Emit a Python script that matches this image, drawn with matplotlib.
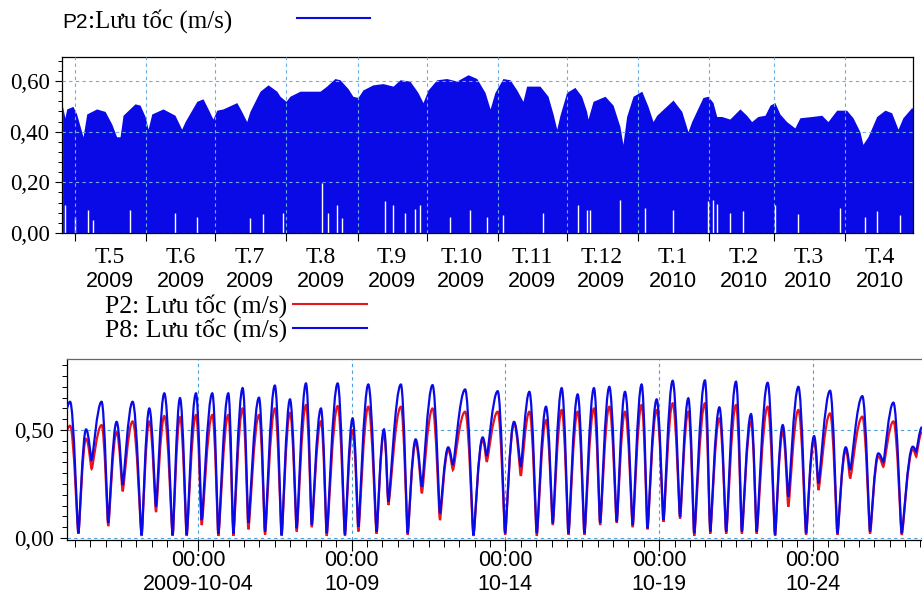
import matplotlib
matplotlib.use('Agg')
import matplotlib.pyplot as plt
import matplotlib.dates as mdates
import matplotlib.transforms as mtransforms
from matplotlib.lines import Line2D
from matplotlib.patches import PathPatch
from matplotlib.path import Path
from matplotlib.ticker import MultipleLocator, FixedLocator, NullFormatter, FuncFormatter
import numpy as np
import pandas as pd

SERIF = ['Liberation Serif', 'DejaVu Serif']
SANS = ['Liberation Sans', 'DejaVu Sans']
BLUE = '#0a0ae6'
RED = '#e8141c'

# ---- top panel: P2 speed, upper envelope (days after 2009-05-01) ----
top_days = [-5.4, -4.4, -3.6, -0.9, 0.7, 3.5, 5.1, 9.4, 13.1, 16.0,
            18.1, 19.6, 20.9, 26.1, 28.3, 30.5, 31.8, 33.4, 38.3, 43.5,
            46.4, 47.9, 53.0, 55.7, 57.9, 60.0, 61.7, 64.4, 70.4, 72.5,
            74.7, 76.1, 80.5, 84.0, 87.8, 89.2, 91.8, 93.5, 97.9, 106.6,
            109.5, 113.1, 115.3, 118.8, 120.9, 123.1, 125.3, 129.6, 134.0, 138.4,
            141.4, 145.7, 149.2, 151.4, 153.6, 157.4, 161.7, 166.1, 171.0, 174.8,
            178.4, 180.6, 182.7, 186.2, 189.3, 192.2, 194.9, 196.5, 202.3, 205.8,
            208.0, 209.6, 211.0, 213.9, 217.5, 220.4, 222.6, 223.2, 225.4, 230.6,
            234.1, 237.1, 238.4, 240.0, 242.8, 246.6, 249.3, 251.5, 253.1, 260.2,
            264.0, 266.7, 268.3, 273.2, 275.4, 277.6, 279.2, 281.4, 284.9, 289.3,
            292.2, 294.4, 297.1, 300.2, 302.4, 304.5, 306.7, 309.6, 313.2, 315.4,
            320.5, 324.9, 327.6, 331.4, 335.7, 338.5, 341.5, 342.8, 345.0, 348.8,
            352.4, 355.3, 358.1, 360.2, 364.0, 364.8]
top_vals = [0.50, 0.455, 0.49, 0.50, 0.47, 0.38, 0.47, 0.49, 0.48, 0.43,
            0.38, 0.38, 0.465, 0.51, 0.505, 0.46, 0.41, 0.47, 0.49, 0.465,
            0.41, 0.44, 0.52, 0.53, 0.49, 0.45, 0.485, 0.49, 0.515, 0.48,
            0.44, 0.48, 0.56, 0.585, 0.56, 0.54, 0.52, 0.54, 0.56, 0.56,
            0.58, 0.61, 0.605, 0.57, 0.54, 0.535, 0.565, 0.585, 0.59, 0.58,
            0.605, 0.60, 0.555, 0.515, 0.565, 0.605, 0.61, 0.60, 0.625, 0.61,
            0.555, 0.49, 0.555, 0.61, 0.605, 0.565, 0.52, 0.58, 0.58, 0.54,
            0.47, 0.41, 0.465, 0.555, 0.575, 0.54, 0.48, 0.45, 0.52, 0.54,
            0.505, 0.42, 0.35, 0.46, 0.54, 0.56, 0.50, 0.44, 0.465, 0.525,
            0.48, 0.40, 0.44, 0.535, 0.54, 0.515, 0.46, 0.46, 0.45, 0.49,
            0.465, 0.44, 0.46, 0.465, 0.505, 0.515, 0.47, 0.44, 0.415, 0.455,
            0.46, 0.465, 0.44, 0.485, 0.485, 0.455, 0.40, 0.35, 0.38, 0.46,
            0.485, 0.475, 0.41, 0.455, 0.495, 0.49]
# days where the low-water speed stays up (white gaps at the bottom)
gap_days = [-4.4, 0.0, 5.8, 8.0, 23.9, 43.5, 52.9, 76.1, 81.9, 90.6,
            107.3, 110.2, 113.8, 116.0, 134.9, 138.5, 143.6, 147.9, 150.1, 163.2,
            171.9, 179.1, 186.3, 203.7, 219.0, 222.6, 224.1, 237.1, 248.0, 260.3,
            275.5, 277.7, 279.2, 285.0, 290.8, 304.5, 314.7, 332.8, 343.7, 348.8,
            358.9]
gap_vals = [0.11, 0.065, 0.09, 0.05, 0.09, 0.08, 0.065, 0.06, 0.075, 0.078,
            0.197, 0.08, 0.11, 0.06, 0.128, 0.11, 0.08, 0.095, 0.11, 0.065,
            0.09, 0.065, 0.07, 0.08, 0.11, 0.09, 0.09, 0.13, 0.10, 0.09,
            0.125, 0.13, 0.115, 0.08, 0.085, 0.11, 0.075, 0.10, 0.065, 0.085,
            0.07]
month_names = ['T.5', 'T.6', 'T.7', 'T.8', 'T.9', 'T.10', 'T.11', 'T.12',
               'T.1', 'T.2', 'T.3', 'T.4']
month_years = ['2009'] * 8 + ['2010'] * 4

# ---- bottom panel: turning points, days after 2009-10-04 00:00 ----
ext_days = [-4.29, -4.16, -3.89, -3.64, -3.46, -3.135, -2.92, -2.646, -2.451, -2.126,
            -1.833, -1.583, -1.366, -1.095, -0.824, -0.585, -0.368, -0.065, 0.119, 0.466,
            0.662, 0.987, 1.149, 1.453, 1.638, 1.985, 2.18, 2.50, 2.72, 2.993,
            3.21, 3.513, 3.70, 4.0, 4.186, 4.544, 4.78, 5.03, 5.216, 5.54,
            5.81, 6.05, 6.19, 6.60, 6.82, 7.08, 7.28, 7.63, 7.87, 8.14,
            8.29, 8.69, 8.96, 9.26, 9.39, 9.75, 9.99, 10.28, 10.5, 10.78,
            11.02, 11.32, 11.54, 11.83, 12.05, 12.35, 12.57, 12.88, 13.08, 13.38,
            13.62, 13.89, 14.14, 14.43, 14.62, 14.92, 15.14, 15.44, 15.68, 15.95,
            16.14, 16.49, 16.66, 16.96, 17.18, 17.50, 17.69, 17.99, 18.17, 18.53,
            18.77, 19.02, 19.2, 19.53, 19.78, 20.04, 20.18, 20.56, 20.80, 21.07,
            21.21, 21.61, 21.86, 22.13, 22.29, 22.62, 22.89, 23.25, 23.36, 23.55]
p8_vals = [0.59, 0.631, 0.022, 0.503, 0.361, 0.631, 0.07, 0.538, 0.245, 0.631,
           0.014, 0.60, 0.145, 0.67, 0.014, 0.648, 0.014, 0.67, 0.083, 0.67,
           0.02, 0.67, 0.02, 0.694, 0.07, 0.65, 0.03, 0.706, 0.014, 0.642,
           0.045, 0.716, 0.06, 0.60, 0.022, 0.716, 0.014, 0.554, 0.052, 0.711,
           0.030, 0.503, 0.168, 0.711, 0.022, 0.457, 0.238, 0.708, 0.114, 0.42,
           0.338, 0.688, 0.014, 0.466, 0.38, 0.68, 0.022, 0.538, 0.33, 0.677,
           0.022, 0.608, 0.068, 0.694, 0.022, 0.665, 0.022, 0.694, 0.07, 0.70,
           0.076, 0.677, 0.06, 0.711, 0.045, 0.642, 0.083, 0.728, 0.098, 0.647,
           0.022, 0.73, 0.03, 0.605, 0.03, 0.724, 0.03, 0.574, 0.03, 0.719,
           0.014, 0.523, 0.191, 0.70, 0.022, 0.472, 0.253, 0.682, 0.022, 0.42,
           0.315, 0.657, 0.03, 0.392, 0.353, 0.627, 0.022, 0.423, 0.40, 0.513]
p2_vals = [0.49, 0.52, 0.02, 0.46, 0.32, 0.523, 0.055, 0.49, 0.216, 0.54,
           0.01, 0.54, 0.12, 0.565, 0.01, 0.56, 0.01, 0.57, 0.06, 0.57,
           0.01, 0.57, 0.01, 0.60, 0.04, 0.57, 0.015, 0.60, 0.01, 0.58,
           0.03, 0.616, 0.05, 0.541, 0.01, 0.611, 0.01, 0.50, 0.03, 0.608,
           0.02, 0.485, 0.153, 0.608, 0.015, 0.442, 0.207, 0.60, 0.083, 0.407,
           0.315, 0.585, 0.01, 0.454, 0.353, 0.585, 0.015, 0.531, 0.288, 0.585,
           0.01, 0.546, 0.06, 0.593, 0.015, 0.585, 0.015, 0.60, 0.06, 0.608,
           0.07, 0.585, 0.05, 0.616, 0.04, 0.593, 0.075, 0.624, 0.09, 0.585,
           0.01, 0.624, 0.02, 0.554, 0.02, 0.616, 0.02, 0.54, 0.02, 0.608,
           0.01, 0.492, 0.145, 0.593, 0.015, 0.454, 0.222, 0.577, 0.015, 0.407,
           0.276, 0.562, 0.02, 0.377, 0.33, 0.54, 0.015, 0.41, 0.377, 0.49]
bottom_ticks = ['2009-10-04', '2009-10-09', '2009-10-14', '2009-10-19', '2009-10-24']
bottom_labels = ['2009-10-04', '10-09', '10-14', '10-19', '10-24']

W, H = 922, 595
fig = plt.figure(figsize=(W / 100, H / 100), dpi=100)


def fx(px):
    return px / W


def fy(py):
    return 1 - py / H


def comma(v, pos):
    return f'{v:.2f}'.replace('.', ',')


def tide_path(x, y):
    # smooth curve through the turning points, flat at each extreme
    verts = [(x[0], y[0])]
    codes = [Path.MOVETO]
    for i in range(len(x) - 1):
        x0, y0, x1, y1 = x[i], y[i], x[i + 1], y[i + 1]
        dx = x1 - x0
        k0 = 0.45 if y0 > y1 else 0.15
        k1 = 0.45 if y1 > y0 else 0.15
        verts += [(x0 + k0 * dx, y0), (x1 - k1 * dx, y1), (x1, y1)]
        codes += [Path.CURVE4] * 3
    return Path(verts, codes)


# ================= top panel =================
ax1 = fig.add_axes([fx(62), fy(233), fx(913 - 62), (233 - 57) / H])
t0 = mdates.date2num(pd.Timestamp('2009-05-01'))
top_x = t0 + np.array(top_days)
ax1.fill_between(top_x, 0, top_vals, color=BLUE, lw=0, zorder=1)
ax1.vlines(t0 + np.array(gap_days), 0, gap_vals, color='white', lw=1.0, zorder=1.5)

ax1.set_xlim(t0 - 5.66, t0 + 364.6)
ax1.set_ylim(0, 0.695)
month_starts = mdates.date2num(pd.date_range('2009-05-01', '2010-04-01', freq='MS').to_pydatetime())
ax1.xaxis.set_major_locator(FixedLocator(month_starts))
ax1.xaxis.set_major_formatter(NullFormatter())
ax1.yaxis.set_major_locator(MultipleLocator(0.2))
ax1.yaxis.set_minor_locator(MultipleLocator(0.04))
ax1.yaxis.set_major_formatter(FuncFormatter(comma))
ax1.tick_params(axis='x', which='major', length=6, width=0.8, direction='out')
ax1.tick_params(axis='y', which='major', length=5, width=0.8, pad=4, labelsize=16.5)
ax1.tick_params(axis='y', which='minor', length=3, width=0.7)
for lab in ax1.get_yticklabels():
    lab.set_family(SERIF)
ax1.set_axisbelow(False)
ax1.grid(True, which='major', color='#6aaee2', linestyle=(0, (3, 3)), lw=0.8)
for s in ax1.spines.values():
    s.set_linewidth(0.9)

trans = mtransforms.blended_transform_factory(ax1.transData, fig.transFigure)
mids = month_starts + 15
for m, name, yr in zip(mids, month_names, month_years):
    ax1.text(m, fy(263), name, transform=trans, ha='center', va='baseline',
             family=SERIF, fontsize=17)
    ax1.text(m, fy(287), yr, transform=trans, ha='center', va='baseline',
             family=SANS, fontsize=15.5)

# legend of the top panel: "P2" in a sans face, the rest in serif
p2_txt = fig.text(fx(62), fy(28), 'P2', family=SANS, fontsize=15, va='baseline')
p2_box = p2_txt.get_window_extent(fig.canvas.get_renderer())
fig.text(p2_box.x1 / W + fx(0.5), fy(28), ':Lưu tốc (m/s)', family=SERIF,
         fontsize=18, va='baseline')
fig.add_artist(Line2D([fx(297), fx(370)], [fy(18), fy(18)], color=BLUE, lw=1.5))

# ================= bottom panel =================
ax2 = fig.add_axes([fx(66.7), fy(539.5), 1 - fx(66.7), (539.5 - 359) / H])
b0 = mdates.date2num(pd.Timestamp('2009-10-04'))
ext_x = b0 + np.array(ext_days)
ax2.add_patch(PathPatch(tide_path(ext_x, p2_vals), fill=False, edgecolor=RED,
                        lw=1.6, zorder=2))
ax2.add_patch(PathPatch(tide_path(ext_x, p8_vals), fill=False, edgecolor=BLUE,
                        lw=1.6, zorder=3))
ax2.set_xlim(b0 - 4.27, b0 + 23.55)
ax2.set_ylim(-0.007, 0.829)

tick_x = mdates.date2num(pd.to_datetime(bottom_ticks).to_pydatetime())
ax2.set_xticks(tick_x, [])
ax2.xaxis.set_minor_locator(MultipleLocator(0.5))
ax2.yaxis.set_major_locator(MultipleLocator(0.5))
ax2.yaxis.set_minor_locator(MultipleLocator(0.05))
ax2.yaxis.set_major_formatter(FuncFormatter(comma))
ax2.tick_params(axis='x', which='major', length=8, width=0.8)
ax2.tick_params(axis='x', which='minor', length=5, width=0.7)
ax2.tick_params(axis='y', which='major', length=5, width=0.8, pad=4, labelsize=16.5)
ax2.tick_params(axis='y', which='minor', length=3.5, width=0.7)
for lab in ax2.get_yticklabels():
    lab.set_family(SERIF)
trans2 = mtransforms.blended_transform_factory(ax2.transData, fig.transFigure)
for tx, lab in zip(tick_x, bottom_labels):
    ax2.text(tx, fy(566), '00:00', transform=trans2, ha='center', va='baseline',
             family=SANS, fontsize=15.5)
    ax2.text(tx, fy(590), lab, transform=trans2, ha='center', va='baseline',
             family=SANS, fontsize=15.5)
ax2.set_axisbelow(True)
ax2.grid(True, which='major', color='#4f9fd8', linestyle=(0, (3, 3)), lw=0.8)
ax2.spines['right'].set_visible(False)
ax2.spines['top'].set_color('#666666')
for s in ax2.spines.values():
    s.set_linewidth(0.9)

fig.text(fx(287), fy(313), 'P2: Lưu tốc (m/s)', family=SERIF, fontsize=18.5,
         ha='right', va='baseline')
fig.text(fx(287), fy(337), 'P8: Lưu tốc (m/s)', family=SERIF, fontsize=18.5,
         ha='right', va='baseline')
fig.add_artist(Line2D([fx(293), fx(367)], [fy(304), fy(304)], color=RED, lw=1.5))
fig.add_artist(Line2D([fx(293), fx(367)], [fy(328), fy(328)], color=BLUE, lw=1.5))

fig.savefig('out.png', dpi=100)
